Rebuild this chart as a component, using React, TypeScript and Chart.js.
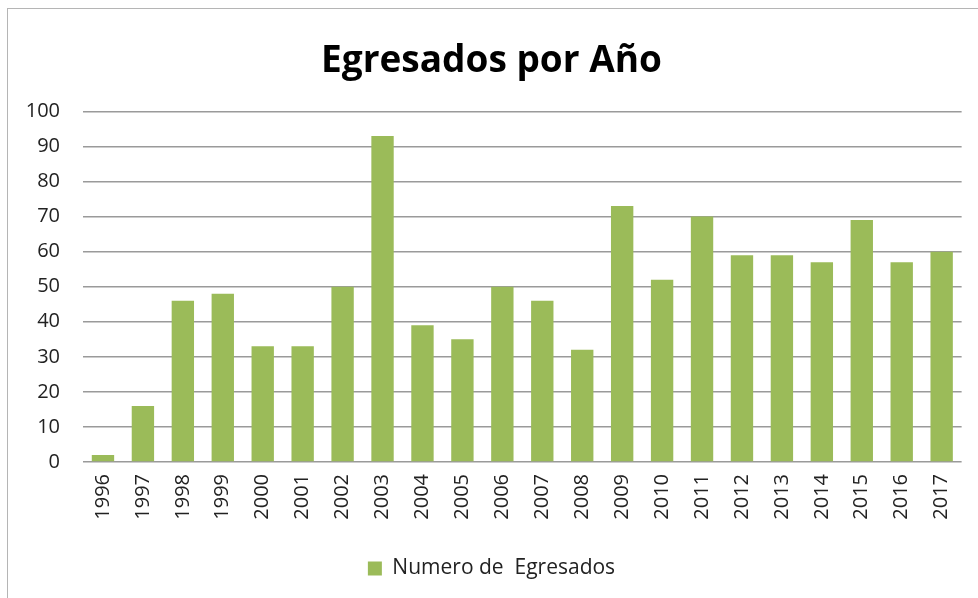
import React, { useEffect, useRef } from "react";
import { Chart, registerables } from "chart.js";

Chart.register(...registerables);

const years = ["1996","1997","1998","1999","2000","2001","2002","2003","2004","2005","2006","2007","2008","2009","2010","2011","2012","2013","2014","2015","2016","2017"];
const egresados = [2,16,46,48,33,33,50,93,39,35,50,46,32,73,52,70,59,59,57,69,57,60];
const seriesLabel = "Numero de  Egresados";
const titleText = "Egresados por Año";

export default function App() {
  const ref = useRef<HTMLCanvasElement | null>(null);
  useEffect(() => {
    if (!ref.current) return;
    const font = "'Open Sans', sans-serif";
    const chart = new Chart(ref.current, {
      type: "bar",
      data: {
        labels: years,
        datasets: [{
          label: seriesLabel,
          data: egresados,
          backgroundColor: "#9BBB59",
          borderWidth: 0,
          categoryPercentage: 1,
          barPercentage: 0.56,
        }],
      },
      options: {
        animation: false,
        responsive: false,
        maintainAspectRatio: false,
        layout: { padding: { top: 0, left: 20, right: 15, bottom: 9 } },
        plugins: {
          title: {
            display: true,
            text: titleText,
            color: "#000",
            font: { family: font, size: 37, weight: "bold" },
            padding: { top: 39, bottom: 28 },
          },
          legend: {
            display: true,
            position: "bottom",
            labels: {
              color: "#222",
              font: { family: font, size: 21 },
              boxWidth: 14,
              boxHeight: 14,
              padding: 10,
            },
          },
          tooltip: { enabled: false },
        },
        scales: {
          x: {
            grid: { display: false, drawTicks: false },
            border: { display: false },
            ticks: {
              color: "#222",
              font: { family: font, size: 20 },
              minRotation: 90,
              maxRotation: 90,
              padding: 12,
              autoSkip: false,
            },
            afterFit: (s: any) => { s.height = 86; },
          },
          y: {
            min: 0,
            max: 100,
            grid: { color: "#9a9a9a", lineWidth: 1.5, drawTicks: false },
            border: { display: false },
            ticks: {
              stepSize: 10,
              color: "#222",
              font: { family: font, size: 20 },
              padding: 23,
            },
            afterFit: (s: any) => { s.width = 63; },
          },
        },
      },
    });
    return () => chart.destroy();
  }, []);
  return (
    <div style={{ position: "fixed", left: 0, top: 0, width: 978, height: 598, background: "#fff", overflow: "hidden" }}>
      <div style={{ position: "absolute", left: 7, top: 8, width: 980, height: 600, borderLeft: "1.5px solid #b5b5b5", borderTop: "1.5px solid #b5b5b5" }} />
      <canvas ref={ref} width={978} height={598} style={{ position: "absolute", left: 0, top: 0 }} />
    </div>
  );
}
